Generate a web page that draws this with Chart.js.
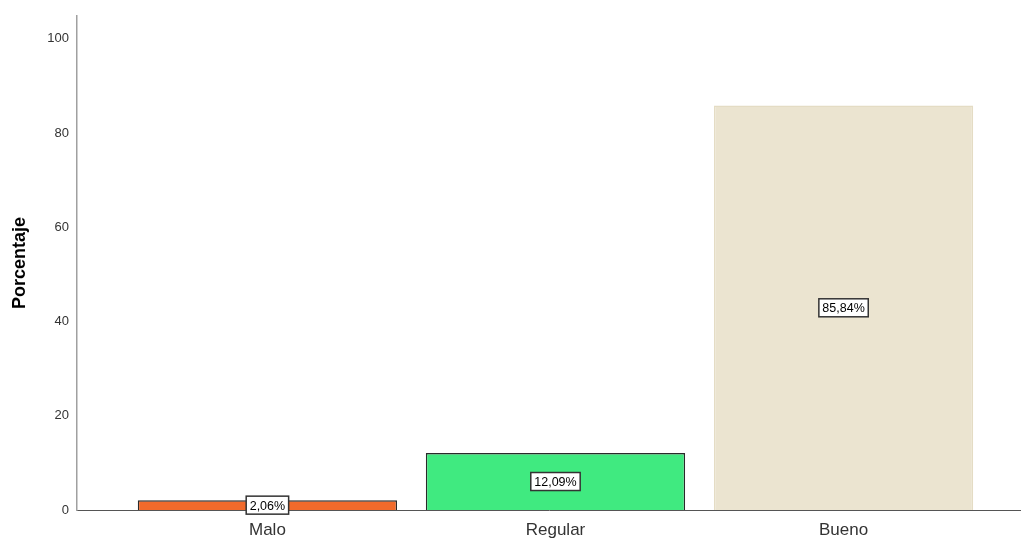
<!DOCTYPE html>
<html>
<head>
<meta charset="utf-8">
<script src="https://cdn.jsdelivr.net/npm/chart.js@4/dist/chart.umd.min.js"></script>
<style>
  html, body { margin: 0; padding: 0; background: #fff; }
  #wrap { width: 1021px; height: 540px; }
</style>
</head>
<body>
<div id="wrap"><canvas id="chart" width="1021" height="540"></canvas></div>
<script>
const categories = ["Malo", "Regular", "Bueno"];
const percentages = [2.06, 12.09, 85.84];
const valueLabels = ["2,06%", "12,09%", "85,84%"];
const barColors = ["#f26a2b", "#40ea80", "#ebe4d0"];
const barBorders = ["#2a2a2a", "#2a2a2a", "#e4dcc4"];
const yTicks = [0, 20, 40, 60, 80, 100];

// white boxed labels in the middle of each bar
const boxLabels = {
    id: "boxLabels",
    afterDatasetsDraw(chart) {
        const ctx = chart.ctx;
        const meta = chart.getDatasetMeta(0);
        ctx.save();
        ctx.font = "12.5px 'Liberation Sans', Arial, sans-serif";
        ctx.textAlign = "center";
        ctx.textBaseline = "middle";
        meta.data.forEach((bar, i) => {
            const cx = bar.x;
            const cy = (bar.y + bar.base) / 2;
            const w = ctx.measureText(valueLabels[i]).width + 7;
            const h = 18;
            ctx.fillStyle = "#ffffff";
            ctx.fillRect(cx - w / 2, cy - h / 2, w, h);
            ctx.strokeStyle = "#333333";
            ctx.lineWidth = 1.5;
            ctx.strokeRect(cx - w / 2, cy - h / 2, w, h);
            ctx.fillStyle = "#000000";
            ctx.fillText(valueLabels[i], cx, cy + 1);
        });
        ctx.restore();
    }
};

new Chart(document.getElementById("chart").getContext("2d"), {
    type: "bar",
    data: {
        datasets: [{
            data: categories.map((c, i) => ({ x: i, y: percentages[i] })),
            backgroundColor: barColors,
            borderColor: barBorders,
            borderWidth: 1.4,
            barPercentage: 1,
            categoryPercentage: 0.9
        }]
    },
    options: {
        responsive: false,
        animation: false,
        layout: { padding: { top: 14, right: 0, left: 0, bottom: 0 } },
        plugins: {
            legend: { display: false },
            tooltip: { enabled: false }
        },
        scales: {
            x: {
                type: "linear",
                offset: false,
                min: -0.661,
                max: 2.616,
                afterBuildTicks: (scale) => { scale.ticks = categories.map((c, i) => ({ value: i })); },
                afterFit: (scale) => { scale.height = 30; },
                grid: { display: false, drawTicks: false, offset: false },
                border: { color: "#555555", width: 1 },
                ticks: {
                    callback: (v) => categories[v],
                    color: "#333333",
                    padding: 10,
                    maxRotation: 0,
                    font: { family: "'Liberation Sans', Arial, sans-serif", size: 17 }
                }
            },
            y: {
                min: 0,
                max: 104.9,
                afterBuildTicks: (scale) => { scale.ticks = yTicks.map(v => ({ value: v })); },
                afterFit: (scale) => { scale.width = 77; },
                grid: { display: false, drawTicks: false },
                border: { color: "#a0a0a0", width: 1.5 },
                ticks: {
                    color: "#333333",
                    padding: 8,
                    font: { family: "'Liberation Sans', Arial, sans-serif", size: 13 }
                },
                title: {
                    display: true,
                    text: "Porcentaje",
                    color: "#000000",
                    padding: { top: 9, bottom: 18 },
                    font: { family: "'Liberation Sans', Arial, sans-serif", size: 18, weight: "bold" }
                }
            }
        }
    },
    plugins: [boxLabels]
});
</script>
</body>
</html>
